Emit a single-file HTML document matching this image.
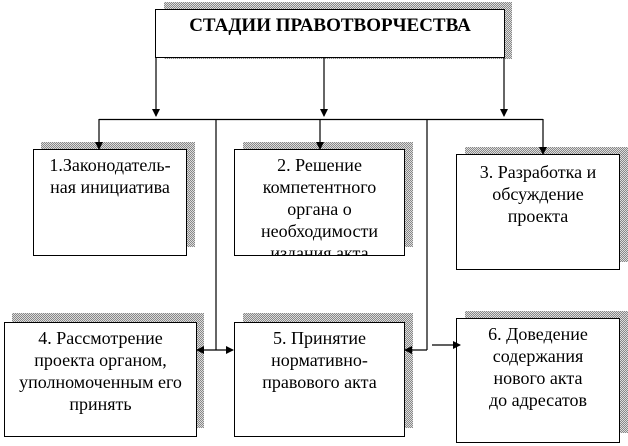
<!DOCTYPE html>
<html><head><meta charset="utf-8"><style>
body{margin:0;width:628px;height:446px;background:#fff;position:relative;overflow:hidden;font-family:"Liberation Serif","DejaVu Serif",serif;}
.b{position:absolute;border:1px solid #000;background:#fff;box-sizing:border-box;text-align:center;font-size:18px;line-height:22px;overflow:hidden;font-family:"Liberation Serif","DejaVu Serif",serif;}
.s{position:absolute;background:#a8a8a8;background-image:repeating-conic-gradient(#888 0 25%,#ddd 0 50%);background-size:2px 2px;}
svg{position:absolute;left:0;top:0;}
</style></head><body>
<div class="s" style="left:164px;top:2px;width:348px;height:57px"></div>
<div class="b" style="left:155px;top:9px;width:350px;height:49px;font-weight:bold;font-size:19px;padding-top:5px">СТАДИИ ПРАВОТВОРЧЕСТВА</div>

<div class="s" style="left:41px;top:142px;width:154px;height:105px"></div>
<div class="b" style="left:33px;top:149px;width:154px;height:107px;padding-top:4px">1.Законодатель-<br>ная инициатива</div>

<div class="s" style="left:243px;top:142px;width:170px;height:105px"></div>
<div class="b" style="left:234px;top:149px;width:171px;height:107px;padding-top:4px">2. Решение<br>компетентного<br>органа о<br>необходимости<br>издания акта</div>

<div class="s" style="left:465px;top:147px;width:163px;height:115px"></div>
<div class="b" style="left:456px;top:154px;width:164px;height:116px;padding-top:6px">3. Разработка и<br>обсуждение<br>проекта</div>

<div class="s" style="left:12px;top:313px;width:192px;height:115px"></div>
<div class="b" style="left:4px;top:322px;width:193px;height:115px;padding-top:4px">4. Рассмотрение<br>проекта органом,<br>уполномоченным его<br>принять</div>

<div class="s" style="left:243px;top:313px;width:170px;height:115px"></div>
<div class="b" style="left:234px;top:322px;width:171px;height:115px;padding-top:4px">5. Принятие<br>нормативно-<br>правового акта</div>

<div class="s" style="left:465px;top:311px;width:163px;height:122px"></div>
<div class="b" style="left:456px;top:318px;width:164px;height:125px;padding-top:4px">6. Доведение<br>содержания<br>нового акта<br>до адресатов</div>

<svg width="628" height="446">
<defs><marker id="a" markerWidth="8" markerHeight="8" refX="7" refY="4" orient="auto" markerUnits="userSpaceOnUse"><path d="M0,0 L8,4 L0,8 z" fill="#000"/></marker></defs>
<g stroke="#000" stroke-width="1.2" fill="none">
<line x1="156" y1="58" x2="156" y2="116" marker-end="url(#a)"/>
<line x1="324" y1="58" x2="324" y2="116" marker-end="url(#a)"/>
<line x1="504" y1="58" x2="504" y2="116" marker-end="url(#a)"/>
<line x1="99" y1="119.5" x2="543" y2="119.5"/>
<line x1="99" y1="119" x2="99" y2="149" marker-end="url(#a)"/>
<line x1="320" y1="119" x2="320" y2="149" marker-end="url(#a)"/>
<line x1="543" y1="119" x2="543" y2="154" marker-end="url(#a)"/>
<line x1="216" y1="119" x2="216" y2="350"/>
<line x1="427" y1="119" x2="427" y2="350"/>
<line x1="216" y1="350" x2="197" y2="350" marker-end="url(#a)"/>
<line x1="216" y1="350" x2="233" y2="350" marker-end="url(#a)"/>
<line x1="427" y1="350" x2="405" y2="350" marker-end="url(#a)"/>
<line x1="432" y1="345" x2="460" y2="345" marker-end="url(#a)"/>
</g></svg>
</body></html>
